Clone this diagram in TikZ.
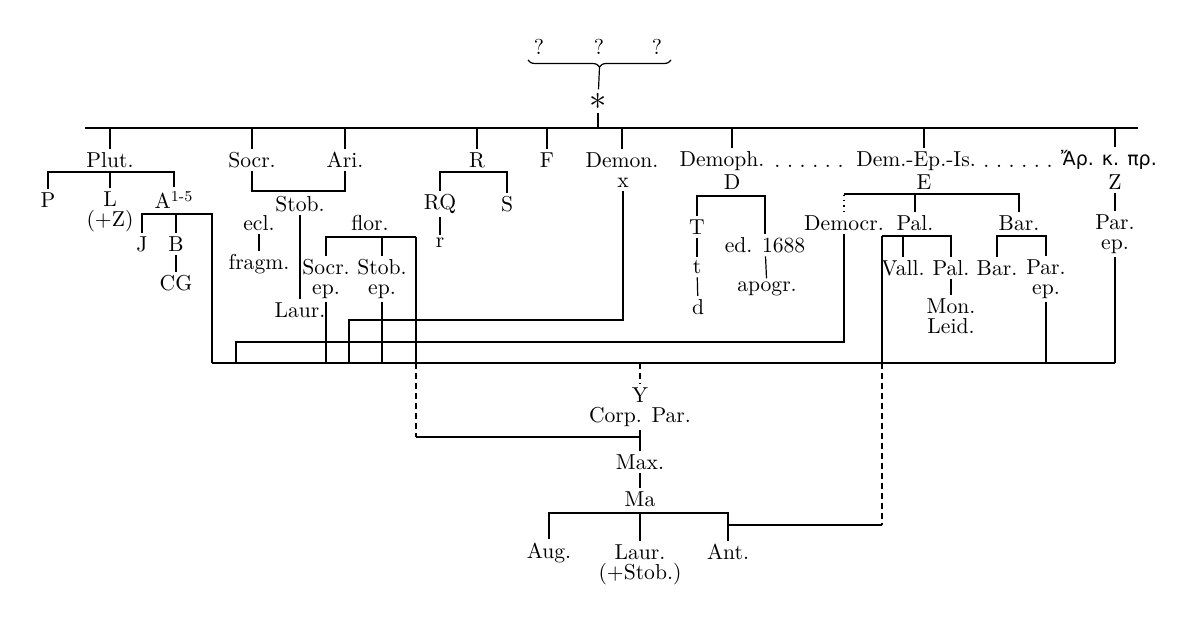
\documentclass[tikz,border=0pt]{standalone}
\usepackage{fontspec}
\usepackage{tikz}
\usetikzlibrary{decorations.pathreplacing}
\newfontfamily\greekfont{DejaVu Sans}
\newcommand\dotrow{\vphantom{D}.\hspace{3.3pt}.\hspace{3.3pt}.\hspace{3.3pt}.\hspace{3.3pt}.\hspace{3.3pt}.}

\begin{document}
\begin{tikzpicture}[x=0.5pt, y=-0.5pt, line width=0.6pt]

\tikzstyle{ms} =
[inner sep=1.5pt,
align=center,
font=\fontsize{10.8}{10}\selectfont]

\tikzstyle{doubtful} =
[densely dashed]

\useasboundingbox (0,0) rectangle (1200,635);

\node (qa) [ms] at (539,47) {?};
\node (qb) [ms] at (599,47) {?};
\node (qc) [ms] at (657,47) {?};
\coordinate (bracel) at (528,60);
\coordinate (bracer) at (671,60);
\coordinate (bracetip) at (599.5,67);
\node (arch) [ms, font=\LARGE] at (598,101) {$\ast$};

\coordinate (topl) at (85,128);
\coordinate (topr) at (1138,128);

\node (plut) [ms] at (110,160) {Plut.};
\node (socr) [ms] at (252,160) {Socr.};
\node (ari) [ms] at (345,160) {Ari.};
\node (rr) [ms] at (477,160) {R};
\node (ff) [ms] at (547,160) {F};
\node (demon) [ms] at (622,160) {Demon.};
\node (demoph) [ms] at (722,161) {Demoph.};
\node (dotsa) [ms, inner sep=0pt] at (809,160) {\dotrow};
\node (dep) [ms] at (916,161) {Dem.-Ep.-Is.};
\node (dotsb) [ms, inner sep=0pt] at (1018,160) {\dotrow};
\node (arkp) [ms, font=\greekfont\fontsize{9.5}{10}\selectfont] at (1109,160) {Ἄρ. κ. πρ.};

\node (demx) [ms] at (623,183) {x};
\node (dd) [ms] at (732,182) {D};
\node (ee) [ms] at (924,182) {E};
\node (zz) [ms] at (1115,182) {Z};

\coordinate (plutbar) at (110,172);
\node (pp) [ms] at (48,200) {P};
\node (ll) [ms] at (110,212) {L\\(+Z)};
\node (aa) [ms] at (174,200) {A\textsuperscript{1-5}};
\coordinate (abar) at (212,214);
\node (jj) [ms] at (142,244) {J};
\node (bb) [ms] at (176,244) {B};
\node (cg) [ms] at (176,283) {CG};

\coordinate (stobbar) at (300,191);
\node (stob) [ms] at (300,204) {Stob.};
\node (ecl) [ms] at (259,223) {ecl.};
\node (fragm) [ms] at (259,264) {fragm.};
\node (flor) [ms] at (370,223) {flor.};
\node (laur) [ms] at (300,310) {Laur.};
\coordinate (florbar) at (416,237);
\node (socrep) [ms] at (326,279) {Socr.\\ep.};
\node (stobep) [ms] at (382,279) {Stob.\\ep.};

\coordinate (rbar) at (477,172);
\node (rq) [ms] at (440,204) {RQ};
\node (ss) [ms] at (507,204) {S};
\node (rsmall) [ms] at (440,243) {r};

\coordinate (dbar) at (732,196);
\node (tt) [ms] at (697,227) {T};
\node (ed) [ms] at (765,245) {ed. 1688};
\node (tsmall) [ms] at (697,267) {t};
\node (dsmall) [ms] at (698,307) {d};
\node (apogr) [ms] at (767,289) {apogr.};

\coordinate (ebar) at (924,194);
\node (democr) [ms] at (844,223) {Democr.};
\node (pal) [ms] at (915,223) {Pal.};
\node (bar) [ms] at (1019,223) {Bar.};
\coordinate (palbar) at (882,236);
\node (vall) [ms] at (903,268) {Vall.};
\node (palb) [ms] at (951,268) {Pal.};
\node (monleid) [ms] at (951,316) {Mon.\\Leid.};
\coordinate (barbar) at (997,236);
\node (barb) [ms] at (997,268) {Bar.};
\node (barparep) [ms] at (1046,279) {Par.\\ep.};
\node (zparep) [ms] at (1115,234) {Par.\\ep.};

\coordinate (xbar) at (349,320);
\coordinate (dcbar) at (236,342);
\coordinate (botl) at (212,363);
\coordinate (botr) at (1115,363);

\node (yy) [ms] at (640,407) {Y\\Corp. Par.};
\coordinate (ymeet) at (416,437);
\node (max) [ms] at (640,462) {Max.};
\node (ma) [ms] at (640,499) {Ma};
\coordinate (mabar) at (640,513);
\node (aug) [ms] at (549,553) {Aug.};
\node (laurb) [ms] at (640,565) {Laur.\\(+Stob.)};
\node (ant) [ms] at (728,552) {Ant.};
\coordinate (antj) at (882,525);

\draw [decorate, decoration={brace, mirror, amplitude=3.5pt}] (bracel) -- (bracer);
\draw (bracetip) -- (arch);
\draw (arch) -- (arch |- topl);
\draw (topl) -- (topr);

\draw (plut |- topl) -- (plut);
\draw (socr |- topl) -- (socr);
\draw (ari |- topl) -- (ari);
\draw (rr |- topl) -- (rr);
\draw (ff |- topl) -- (ff);
\draw (demon |- topl) -- (demon);
\draw (dd |- topl) -- (dd |- demoph.north);
\draw (ee |- topl) -- (ee |- dep.north);
\draw (zz |- topl) -- (zz |- arkp.north);

\draw (pp) -- (pp |- plutbar) -- (aa |- plutbar) -- (aa);
\draw (ll) -- (ll |- plutbar);
\draw (jj) -- (jj |- abar) -- (abar) -- (abar |- botl);
\draw (bb) -- (bb |- abar);
\draw (bb) -- (cg);

\draw (socr) -- (socr |- stobbar) -- (ari |- stobbar) -- (ari);
\draw (ecl) -- (fragm);
\draw (stob) -- (laur);
\draw (socrep) -- (socrep |- florbar) -- (florbar);
\draw (stobep) -- (stobep |- florbar);
\draw (florbar) -- (florbar |- botl);
\draw [doubtful] (florbar |- botl) -- (ymeet);
\draw (ymeet) -- (yy |- ymeet);
\draw (socrep) -- (socrep |- botl);
\draw (stobep) -- (stobep |- botl);

\draw (rq) -- (rq |- rbar) -- (ss |- rbar) -- (ss);
\draw (rq) -- (rsmall);

\draw (demx) -- (demx |- xbar) -- (xbar) -- (xbar |- botl);

\draw (tt) -- (tt |- dbar) -- (ed |- dbar) -- (ed);
\draw (tt) -- (tsmall);
\draw (tsmall) -- (dsmall);
\draw (ed) -- (apogr);

\draw [dotted] (democr) -- (democr |- ebar);
\draw (democr |- ebar) -- (bar |- ebar) -- (bar);
\draw (pal) -- (pal |- ebar);
\draw (democr) -- (democr |- dcbar) -- (dcbar) -- (dcbar |- botl);
\draw (vall) -- (vall |- palbar);
\draw (palbar) -- (palb |- palbar) -- (palb);
\draw (palb) -- (monleid);
\draw (palbar) -- (palbar |- botl);
\draw [doubtful] (palbar |- botl) -- (antj);
\draw (antj) -- (ant |- antj);
\draw (barb) -- (barb |- barbar) -- (barparep |- barbar) -- (barparep);
\draw (barparep) -- (barparep |- botl);
\draw (zz) -- (zparep);
\draw (zparep) -- (botr);

\draw (botl) -- (botr);
\draw [doubtful] (yy |- botl) -- (yy);
\draw (yy) -- (max);
\draw (max) -- (ma);
\draw (aug) -- (aug |- mabar) -- (ant |- mabar) -- (ant);
\draw (laurb) -- (mabar);

\end{tikzpicture}
\end{document}
